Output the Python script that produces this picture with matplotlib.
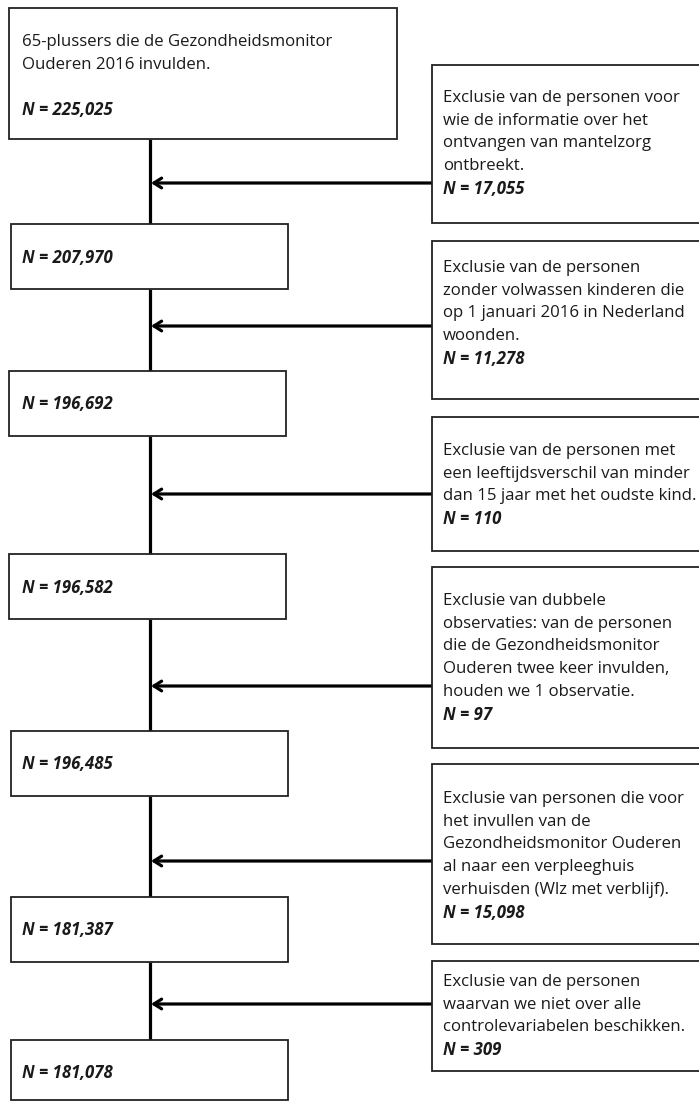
import matplotlib
matplotlib.use("Agg")
import matplotlib.pyplot as plt
from matplotlib.patches import Rectangle

# ---- data ----
start_text = ["65-plussers die de Gezondheidsmonitor", "Ouderen 2016 invulden."]
remaining_n = ["225,025", "207,970", "196,692", "196,582", "196,485", "181,387", "181,078"]
exclusion_text = [
    ["Exclusie van de personen voor", "wie de informatie over het", "ontvangen van mantelzorg", "ontbreekt."],
    ["Exclusie van de personen", "zonder volwassen kinderen die", "op 1 januari 2016 in Nederland", "woonden."],
    ["Exclusie van de personen met", "een leeftijdsverschil van minder", "dan 15 jaar met het oudste kind."],
    ["Exclusie van dubbele", "observaties: van de personen", "die de Gezondheidsmonitor", "Ouderen twee keer invulden,", "houden we 1 observatie."],
    ["Exclusie van personen die voor", "het invullen van de", "Gezondheidsmonitor Ouderen", "al naar een verpleeghuis", "verhuisden (Wlz met verblijf)."],
    ["Exclusie van de personen", "waarvan we niet over alle", "controlevariabelen beschikken."],
]
excluded_n = ["17,055", "11,278", "110", "97", "15,098", "309"]

# ---- layout (pixels) ----
W, H = 699, 1102
left_boxes = [(9, 8, 397, 139), (11, 224, 288, 289), (9, 371, 286, 436), (9, 554, 286, 619),
              (11, 731, 288, 796), (11, 897, 288, 962), (11, 1040, 288, 1100)]
left_n_y = [110, 258, 404, 588, 764, 930, 1073]
right_boxes = [(432, 65, 223), (432, 241, 399), (432, 417, 551), (432, 567, 748), (432, 764, 944), (432, 961, 1071)]
right_first_y = [98, 268, 451, 601, 799, 982]
arrow_y = [183, 326, 494, 686, 861, 1004]
line_x = 150
LS = 22.7
FONT = "Open Sans"
FS = 12.1
TC = "#1a1a1a"
EC = "#222222"

fig = plt.figure(figsize=(W / 100, H / 100), dpi=100)
ax = fig.add_axes([0, 0, 1, 1])
ax.set_xlim(0, W)
ax.set_ylim(H, 0)
ax.axis("off")

# main vertical line segments between boxes
for i in range(len(left_boxes) - 1):
    ax.plot([line_x, line_x], [left_boxes[i][3], left_boxes[i + 1][1]], color="black", lw=2.3,
            solid_capstyle="butt", zorder=1)

# left boxes
for (x0, y0, x1, y1) in left_boxes:
    ax.add_patch(Rectangle((x0, y0), x1 - x0, y1 - y0, fill=True, facecolor="white",
                           edgecolor=EC, lw=1.3, zorder=2))

# start text
for k, t in enumerate(start_text):
    ax.text(22, 42 + k * 23, t, fontsize=FS, family=FONT, color=TC, va="center", ha="left", zorder=3)
for n, y in zip(remaining_n, left_n_y):
    ax.text(22, y, f"N = {n}", fontsize=FS, family=FONT, fontweight="bold", fontstyle="italic",
            color=TC, va="center", ha="left", zorder=3)

# right boxes
for (x0, y0, y1) in right_boxes:
    ax.add_patch(Rectangle((x0, y0), W + 10 - x0, y1 - y0, fill=True, facecolor="white",
                           edgecolor=EC, lw=1.3, zorder=2, clip_on=True))

for lines, n, y0 in zip(exclusion_text, excluded_n, right_first_y):
    for k, t in enumerate(lines):
        ax.text(443, y0 + k * LS, t, fontsize=FS, family=FONT, color=TC, va="center", ha="left", zorder=3)
    ax.text(443, y0 + len(lines) * LS, f"N = {n}", fontsize=FS, family=FONT, fontweight="bold",
            fontstyle="italic", color=TC, va="center", ha="left", zorder=3)

# arrows
for y, (x0, _, _) in zip(arrow_y, right_boxes):
    ax.annotate("", xy=(line_x + 1, y), xytext=(x0, y),
                arrowprops=dict(arrowstyle="->,head_length=0.55,head_width=0.35", color="black",
                                lw=2.3, shrinkA=0, shrinkB=0), zorder=1)

fig.savefig("out.png", dpi=100, facecolor="white")
